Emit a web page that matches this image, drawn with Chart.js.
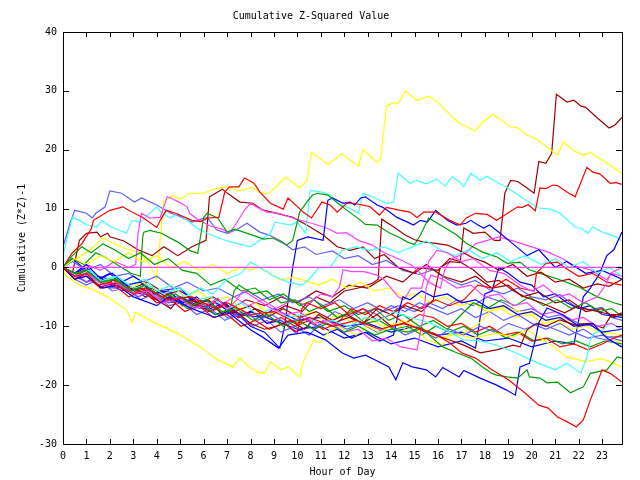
<!DOCTYPE html>
<html>
<head>
<meta charset="utf-8">
<script src="https://cdn.jsdelivr.net/npm/chart.js@4.4.1/dist/chart.umd.min.js"></script>
<style>
  html, body { margin: 0; background: #fff; }
  #caixa { width: 640px; height: 480px; }
</style>
</head>
<body>
<div id="caixa"><canvas id="grafico"></canvas></div>
<script>
// ticks
const hourTicks = [0,1,2,3,4,5,6,7,8,9,10,11,12,13,14,15,16,17,18,19,20,21,22,23];
const valueTicks = [-30,-20,-10,0,10,20,30,40];
const lastHour = 23.85;

// series: [hour, cumulative value]
const zeroLine = [[0,0],[23.85,0]];

const yellowTop = [[0,0],[0.4,1.2],[0.8,2],[1.3,3.5],[1.7,5],[2.1,4.2],[2.6,3.3],[3.3,2.4],[3.7,0.5],[4.0,-2],[4.15,5],[4.3,11.3],[4.7,12.2],[5.0,11.6],[5.4,12.6],[6.0,12.6],[6.5,13.4],[7.0,13.7],[7.5,13],[8.1,13.6],[8.4,12.6],[8.8,12.6],[9.5,15.3],[10.1,13.6],[10.4,14.6],[10.6,19.6],[11.3,17.5],[11.9,19.3],[12.6,17.2],[12.8,20],[13.4,17.9],[13.55,18.5],[13.8,27.4],[14.1,28],[14.3,27.8],[14.6,30],[15.1,28.4],[15.6,29.1],[16.0,28],[16.5,26],[16.9,24.5],[17.6,23.2],[17.9,24.7],[18.35,26],[19.1,23.9],[19.4,23.7],[19.8,22.5],[20.2,21.8],[21.1,19.1],[21.35,21.3],[21.8,19.8],[22.2,19.1],[22.5,19.5],[22.8,18.7],[23.35,17.4],[23.85,15.9]];

const darkRedTop = [[0,0],[0.5,-1.5],[1,-0.5],[1.5,-2.5],[2.2,-2],[3,-3.5],[3.6,-2.5],[4.4,-4.5],[5,-4],[5.8,-6],[6.4,-5],[7.2,-7],[7.8,-5.5],[8.6,-6.5],[9.3,-5],[10,-6],[10.8,-4],[11.5,-5],[12.2,-3],[13,-3.5],[13.8,-1.5],[14.5,-2.5],[15.2,0],[16,-0.5],[16.5,1.5],[16.95,1],[17.1,6.7],[17.5,5.8],[18,6],[18.4,4.6],[18.65,4.6],[18.85,12.6],[19.1,14.8],[19.4,14.6],[19.8,13.5],[20.1,12.6],[20.3,18],[20.6,17.7],[20.85,19.4],[21.05,29.4],[21.2,29],[21.5,28.1],[21.8,28.4],[22.1,27.4],[22.3,27.2],[22.8,25.4],[23.3,23.7],[23.55,24.2],[23.85,25.5]];

const redHigh = [[0,0],[0.4,2.5],[0.8,4],[1.2,6.5],[1.3,8],[1.5,8.5],[2,9.7],[2.55,10.3],[2.9,9.5],[3.4,8.5],[4.0,6.8],[4.15,8],[4.4,9.7],[4.8,9.2],[5.5,8],[5.85,7.8],[6.2,8.4],[6.65,8.5],[6.9,12.8],[7.1,13.7],[7.5,13.7],[7.75,15.2],[8.15,14.3],[8.4,12.8],[8.85,10.9],[9.4,9.9],[9.6,11.8],[10.25,9.4],[10.6,8.4],[11.05,11.1],[11.4,10.6],[11.7,9.4],[12.1,10.9],[12.4,10.9],[12.8,10.6],[13.1,10.3],[13.5,8.9],[13.8,10.2],[14.4,9.7],[14.8,9.4],[15.1,8.5],[15.4,9.4],[15.9,9.4],[16.5,8],[16.95,7.2],[17.2,8.4],[17.6,9.2],[18.1,9],[18.5,8],[19.4,10.3],[19.6,10.2],[19.85,10.7],[20.15,9.6],[20.35,13.5],[20.6,13.4],[20.9,14],[21.1,13.9],[21.5,12.8],[21.85,12],[22.35,17],[22.6,16.2],[22.9,15.9],[23.35,14.3],[23.6,14.4],[23.85,14.1]];

const cyanHigh = [[0,2],[0.4,8.5],[0.7,8],[1,7.2],[1.45,6.9],[1.65,8],[2,7],[2.7,5.8],[2.95,8],[3.3,7.7],[4,10.3],[4.2,9.3],[4.6,8.4],[4.9,9.2],[5.3,8],[5.7,6.7],[6.15,5.8],[7,4.5],[8,3.5],[8.85,5.8],[9.05,7.7],[9.3,7.5],[9.7,7.2],[10,7.7],[10.35,5.8],[10.55,13.1],[11.05,12.8],[11.4,12.3],[11.7,10.9],[12.25,10],[12.6,9.2],[12.8,12.6],[13.2,12],[13.8,10.9],[14.1,11.1],[14.3,16],[14.8,14.3],[15.1,14.8],[15.5,14.2],[15.95,15],[16.3,13.8],[16.6,15.4],[16.9,14.6],[17.1,13.7],[17.4,16],[17.8,14.8],[18.1,15.5],[18.5,14.5],[18.9,13.7],[19.8,11.3],[20.3,10.1],[20.8,9.9],[21.2,9.2],[21.9,6.7],[22.1,6.7],[22.4,5.8],[22.6,6.9],[23,6],[23.6,5.2],[23.85,4.5]];

const slateHigh = [[0,3.5],[0.3,7.5],[0.5,9.7],[1.0,9.2],[1.25,8.4],[1.4,9.2],[1.8,10.3],[2.0,13],[2.5,12.6],[3.05,11.1],[3.35,11.8],[4.0,10.6],[4.6,9.2],[4.85,8.9],[5.5,7.7],[5.7,8],[6.15,8.5],[6.55,6.4],[7.0,5.8],[7.4,6.4],[7.85,7.5],[8.4,6],[8.8,5.5],[9.3,4.5],[9.8,3],[10.3,3.5],[10.8,2.2],[11.5,2.8],[12,1.5],[12.6,2],[13.2,0.5],[13.8,1.2],[14.5,-0.5],[15.2,-1.2],[15.8,-0.4],[16.4,-2],[17,-3],[17.6,-2.2],[18.2,-3.8],[18.8,-4.5],[19.4,-3.5],[20,-5],[20.6,-5.5],[21.2,-4.6],[21.8,-6.5],[22.4,-7.2],[23,-6.8],[23.4,-8.5],[23.85,-9]];

const darkRedJump6 = [[0,0],[0.4,-1],[0.7,4.6],[1.0,5.8],[1.45,6],[1.6,5.2],[1.9,5.8],[2.0,5.2],[2.6,4.5],[3.2,3],[3.8,2],[4.3,3.5],[4.9,2],[5.5,3.5],[6.1,4.6],[6.25,12],[6.8,13.3],[7.05,12.5],[7.55,11.1],[8.1,10.9],[8.5,9.8],[9.0,9.3],[9.8,8.5],[10.4,7.2],[11.1,5.5],[11.7,3.5],[12.25,2.9],[12.8,3.5],[13.3,1.5],[13.7,2.2],[14.3,0],[15,-1],[15.5,0.5],[16.2,-1.5],[17,-2.5],[17.6,-1.5],[18.3,-3.5],[19,-3],[19.6,-5],[20.3,-4.2],[21,-6],[21.6,-5.5],[22.3,-7.5],[23,-7],[23.5,-8.5],[23.85,-8]];

const greenHigh = [[0,0],[0.4,1.5],[0.9,0.5],[1.4,2.5],[1.9,1.5],[2.5,0],[2.9,-1],[3.3,-1.5],[3.4,5.2],[3.45,6],[3.7,6.3],[4.2,5.8],[4.9,4.3],[5.4,2.9],[5.6,2.6],[5.75,2.4],[6.0,8.5],[6.15,9.2],[6.6,8.4],[7.0,6],[7.3,6.5],[7.55,6.2],[8.3,5.2],[8.55,4.8],[8.95,5],[9.55,3.8],[9.8,4.6],[10.1,9.4],[10.4,11.1],[10.65,12.3],[10.85,12.6],[11.3,12.3],[11.95,10.2],[12.7,8],[12.9,7.3],[13.4,7.2],[13.95,5.8],[14.3,5.2],[14.7,4.3],[15.0,3.9],[15.25,5.5],[15.6,8.4],[16.1,7.2],[16.8,5.5],[17.2,4.1],[17.9,2.6],[18.5,1.8],[18.95,0.7],[19.5,0.9],[19.9,-0.4],[20.35,-1],[21.2,-2.1],[21.8,-3],[22.1,-3.5],[22.8,-5],[23.5,-6],[23.85,-6.4]];

const magentaHigh = [[0,0],[0.5,-1],[1,0.5],[1.6,-0.5],[2.2,1],[2.8,0],[3.1,0.5],[3.2,5.8],[3.35,9.2],[3.7,8.4],[4.15,8.5],[4.45,12],[4.6,11.8],[4.95,11.1],[5.3,10.3],[5.4,9.2],[5.8,8],[6.3,7],[6.8,6.5],[7.1,5.8],[7.4,7.5],[7.75,9.8],[8.0,10.9],[8.3,10.2],[8.7,9.4],[9.2,9.2],[9.8,8.4],[10.6,7.5],[11.25,6.7],[11.7,5.8],[12.1,5.9],[12.6,4.6],[13.2,3.8],[13.7,2.5],[14.4,1.3],[14.85,0.4],[15.1,-0.4],[15.6,-2.5],[16.1,-3.5],[16.3,-0.2],[16.6,1.5],[17.2,2.5],[17.6,4],[18.6,5.2],[19.2,4.5],[20.0,3.5],[20.7,2.6],[21.4,1.3],[21.7,0.4],[22.5,-0.4],[23.2,-2.1],[23.4,-1],[23.85,-1.5]];

const blueJump10 = [[0,0],[0.4,1.5],[1,-0.5],[1.5,-2],[2,-1],[2.8,-4],[3.5,-3],[4.5,-6],[5.5,-5.5],[6.5,-8],[7.2,-7],[8,-10],[8.6,-11],[9.25,-13.7],[9.45,-10.1],[9.8,0],[10,4.6],[10.45,5.2],[11.1,4.6],[11.3,11.4],[11.5,11.8],[11.95,10.9],[12.25,11.1],[12.45,10.6],[12.7,11.8],[12.9,12],[13.4,10.6],[13.65,10.2],[13.8,9.8],[14.25,8.5],[14.7,7.7],[14.95,7.2],[15.25,8],[15.55,7.7],[15.9,9.7],[16.4,8],[16.8,7.2],[17.2,7.5],[17.4,8],[17.7,7.2],[17.95,6.7],[18.2,7.2],[18.65,5.8],[19.2,4],[19.8,2],[20.3,3],[21,0],[21.5,1],[22.3,-1],[23,-0.5],[23.85,-2]];

const darkRedJump13 = [[0,0],[0.5,-1],[1,-2.5],[1.5,-1.5],[2.2,-3.5],[2.8,-3],[3.5,-5],[4.2,-4],[5,-6],[5.6,-5.5],[6.2,-7.5],[6.8,-6.5],[7.5,-8.5],[8.2,-7],[8.8,-8],[9.5,-6.5],[10.2,-7.5],[10.8,-5],[11.4,-6],[12,-4],[12.6,-3.5],[13.2,-2.7],[13.45,-2],[13.6,8.2],[14.1,6.9],[14.6,5.5],[15.0,4.7],[15.4,4.3],[15.9,4.1],[16.4,3.8],[16.9,2.9],[17.5,1.6],[18,0.9],[18.6,-0.5],[19.2,0.5],[19.8,-1.5],[20.4,-0.8],[21,-2.5],[21.6,-2],[22.2,-3.5],[22.8,-2.8],[23.3,-3.2],[23.85,-2]];

const yellowLow = [[0,0],[0.1,-1.3],[0.7,-3],[1.3,-3.8],[1.9,-5],[2.7,-7.2],[2.95,-9.3],[3.1,-7.6],[3.85,-9.3],[4.9,-11.2],[5.85,-13.5],[6.6,-15.7],[7.25,-16.9],[7.55,-15.4],[7.85,-16.6],[8.3,-17.8],[8.6,-18],[8.85,-16],[9.3,-17.4],[9.6,-16.9],[10.1,-18.6],[10.25,-16],[10.5,-14],[10.7,-12.3],[10.95,-12.8],[11.4,-10.6],[11.8,-10.1],[12.5,-11.5],[13,-10],[13.5,-11],[14.5,-9],[15,-10],[15.5,-12.3],[16.2,-13.2],[16.5,-11.2],[17.5,-12],[18.5,-11.2],[19.2,-11.8],[19.8,-10.6],[20.7,-12.8],[21.5,-15.2],[22.3,-16],[23,-15.5],[23.85,-16.9]];

const redLow = [[0,0],[0.5,-1.5],[1,-1],[1.5,-3],[2,-2.5],[3,-4.5],[3.5,-3.5],[4.5,-5.5],[5.5,-5],[6.5,-7],[7,-6],[8,-8],[9,-7.5],[10,-9.5],[10.5,-8.5],[11.5,-10],[12.5,-9],[13.5,-10.5],[14.5,-9.5],[15.8,-11.2],[16.5,-12.8],[17,-14.5],[17.6,-15.4],[18.3,-17.4],[19,-19.1],[19.7,-21.3],[20.3,-23.4],[20.7,-23.9],[21.1,-25.4],[21.5,-26.2],[21.9,-27.1],[22.2,-25.9],[22.5,-22.5],[22.8,-19.5],[23,-17.4],[23.35,-18],[23.85,-19.5]];

const blueLow = [[0,0],[0.5,-2],[1,-1.5],[1.7,-3.5],[2.3,-3],[3,-5],[4,-6.5],[4.5,-5],[5.5,-7],[6.5,-8.5],[7,-7.5],[8,-10.6],[8.5,-11.8],[9.2,-13.7],[9.6,-11.5],[10.4,-11],[11.2,-12.3],[11.9,-14.5],[12.4,-15.4],[12.9,-14.9],[13.3,-15.7],[13.9,-16.9],[14.2,-19.1],[14.5,-16.2],[14.9,-16.9],[15.5,-17.4],[15.9,-18.6],[16.2,-17],[16.9,-18.6],[17.1,-17.5],[17.8,-18.8],[18.5,-20],[18.9,-20.8],[19.3,-21.7],[19.5,-16.9],[19.9,-16.3],[20.15,-12.3],[20.3,-9.4],[20.65,-6.9],[21.3,-8],[22,-10],[22.6,-9.5],[23.2,-12],[23.85,-13.5]];

const blueJump18 = [[0,0],[0.5,-1],[1,0.5],[1.5,-1.5],[2.5,-2.5],[3,-1.5],[4,-4],[5,-3.5],[5.5,-5.5],[6.5,-6],[7.5,-8.5],[8,-7.5],[9,-9],[10,-10.5],[11,-10],[12,-12],[13,-11],[14,-13],[15,-12],[16,-13.5],[17,-12.5],[17.6,-13.7],[17.8,-8.5],[18,-4.5],[18.3,-4],[18.6,0],[19,-1],[19.5,-2.5],[20,-3],[20.5,-5],[21,-4.5],[21.5,-6],[22,-7],[22.5,-6.5],[23,-8],[23.85,-8.5]];

const blueJump22 = [[0,0],[0.4,-1],[1,-2.5],[1.5,-1.5],[2.5,-4],[3,-3.5],[4,-5.5],[5,-5],[6,-7],[6.5,-6],[7.5,-8],[8.5,-8.5],[9,-7],[10,-9],[11,-8.5],[12,-10],[13,-9.5],[14,-11],[15,-10],[16,-11.5],[17,-11],[18,-12.5],[19,-12],[20,-13.5],[21,-12.5],[21.8,-13],[22.05,-8],[22.2,-5],[22.5,-3.5],[22.9,-1],[23.2,2],[23.5,3],[23.85,6]];

const greenLow = [[0,0],[0.5,-1],[1,-0.5],[1.6,-2.5],[2.2,-2],[2.9,-4],[3.5,-3],[4.2,-5],[4.8,-4.5],[5.5,-6.5],[6.1,-5.5],[6.8,-7.5],[7.4,-7],[8.1,-9],[8.7,-8],[9.4,-10],[10,-9],[10.7,-10.5],[11.3,-9.5],[12,-11],[12.6,-10],[13.3,-11.5],[14,-10.5],[14.7,-11],[15.3,-10.2],[15.7,-11.8],[16.2,-13.5],[16.8,-14.5],[17.4,-15.4],[17.9,-16.9],[18.3,-18],[18.5,-18.3],[18.95,-18.6],[19.4,-18.8],[19.8,-17.4],[19.9,-18.6],[20.35,-18.8],[20.65,-19.6],[21.1,-19.5],[21.35,-20.3],[21.65,-21.3],[22.2,-20.3],[22.5,-18],[23.2,-17.4],[23.65,-15.2],[23.85,-15.4]];

const cyanLow = [[0,0],[0.6,-1.5],[1.1,-0.5],[1.7,-2.5],[2.3,-1.5],[3,-3.5],[3.6,-3],[4.3,-4.5],[5,-3.5],[5.7,-5.5],[6.3,-5],[7,-7],[7.6,-6],[8.3,-8],[8.9,-7],[9.6,-8.5],[10.2,-8],[10.9,-9.5],[11.5,-9],[12.2,-10],[12.9,-8.5],[13.5,-9],[14.1,-7.5],[14.8,-8.5],[15.3,-9],[15.7,-9.5],[16.4,-10.8],[17.1,-12.3],[17.8,-12.5],[18.5,-13.2],[19.3,-14.5],[20.3,-16.3],[21,-17.4],[21.5,-16.3],[22.1,-18],[22.35,-15.2],[22.5,-12.3],[22.65,-11.2],[23.05,-10.6],[23.35,-9.4],[23.85,-10.6]];

const darkRedJump16 = [[0,0],[0.6,-1.5],[1.2,-1],[1.8,-3],[2.5,-2.5],[3.2,-4.5],[3.8,-3.5],[4.6,-5.5],[5.3,-5],[6,-7],[6.6,-5.5],[7.3,-7.5],[8,-6.5],[8.7,-8.5],[9.4,-7],[10.1,-8.5],[10.8,-7.5],[11.5,-9],[12.1,-8],[12.8,-9.5],[13.4,-7],[14,-8],[14.6,-6.5],[15.3,-7.5],[15.8,-5.5],[16,-1.5],[16.1,0],[16.5,1],[17,0.8],[17.5,-0.4],[18.1,-2.5],[18.6,-2.2],[19.2,-3.9],[19.7,-5],[20.4,-6],[21.4,-7.7],[21.9,-6.7],[22.5,-7.2],[23.35,-8],[23.85,-8]];

const darkRedLow = [[0,0],[0.5,-2],[1,-1],[1.6,-3.5],[2.2,-2],[2.8,-4],[3.4,-3.5],[4,-5.5],[4.6,-7],[5,-5],[5.6,-6.5],[6.2,-5.5],[6.8,-8],[7.4,-7.5],[8,-9.5],[8.6,-10.5],[9.1,-10],[9.7,-9],[10.3,-10.5],[10.9,-8],[11.5,-9.5],[12.2,-8.5],[12.8,-9.5],[13.4,-8],[14,-10],[14.6,-9.5],[15.2,-10.5],[15.7,-11.2],[16.4,-12.2],[17.1,-13.2],[17.8,-14.5],[18.5,-14],[19.2,-13.2],[19.5,-13.5],[19.8,-10.6],[20.2,-9.5],[20.6,-10],[21.2,-8.9],[21.8,-9.7],[22.5,-9.5],[23.05,-10.3],[23.35,-8.4],[23.85,-7.7]];

const slateLow = [[0,0],[0.5,-1.5],[1,-2.5],[1.4,-1.5],[2,-3.5],[2.6,-3],[3.2,-5],[3.8,-4],[4.5,-6],[5.1,-5],[5.8,-7],[6.4,-6.5],[7,-8.5],[7.7,-7.5],[8.3,-9],[8.9,-8],[9.5,-9.5],[10.2,-8.5],[10.8,-10],[11.4,-9],[12.1,-10.5],[12.7,-9.5],[13.4,-11],[14,-10],[14.6,-11.5],[15.2,-10.5],[15.9,-12],[16.5,-10.5],[17.1,-11.5],[17.8,-10],[18.4,-11],[19,-9.5],[19.7,-10.5],[20.3,-9.5],[21,-10.5],[21.6,-11.5],[22.2,-10.5],[22.8,-12],[23.4,-12.5],[23.85,-13.5]];

const slateMid = [[0,0],[0.4,1],[1,-0.5],[1.6,0.5],[2.2,-1.5],[2.8,-1],[3.4,-2.5],[4,-1.5],[4.7,-3.5],[5.3,-2.5],[6,-4],[6.6,-3.5],[7.3,-5],[7.9,-4],[8.5,-5.5],[9.2,-4.5],[9.8,-6],[10.5,-5],[11.1,-6.5],[11.8,-5.5],[12.4,-7],[13,-6],[13.7,-7.5],[14.3,-6.5],[15,-7.5],[15.6,-6],[16.2,-7],[16.8,-5.5],[17.5,-6.5],[18.1,-5],[18.8,-6],[19.4,-7.5],[20,-7],[20.7,-8.5],[21.3,-8],[22,-9.5],[22.6,-10],[23.2,-11.8],[23.85,-11.8]];

const slateDip = [[0,0],[0.5,-2],[1,-3],[1.5,-2],[2.1,-4],[2.7,-3.5],[3.3,-5.5],[3.9,-4.5],[4.5,-6.5],[5.1,-6],[5.7,-8],[6.3,-7],[6.9,-9],[7.5,-8],[8.1,-10],[8.7,-9],[9.3,-11],[9.9,-10],[10.5,-11.5],[11.1,-9],[11.6,-7.5],[12.2,-8.5],[12.8,-7],[13.4,-8],[14,-6.5],[14.6,-7.5],[15.2,-6],[15.8,-7],[16.4,-8],[17,-7],[17.6,-8.5],[18.2,-7.5],[18.8,-9],[19.4,-8],[20,-9.5],[20.6,-10.5],[21.2,-9.5],[21.8,-11],[22.4,-12],[23,-11.5],[23.85,-12.5]];

const magentaMid = [[0,0],[0.5,-1],[1,-2.5],[1.5,-2],[2.1,-3.5],[2.6,-3],[3.2,-5],[3.8,-4],[4.4,-6],[5,-5.5],[5.6,-7],[6.1,-5.5],[6.7,-6.5],[7.3,-5],[7.9,-6.5],[8.5,-5.5],[9.1,-7],[9.8,-5.5],[10.4,-6.5],[11,-4.5],[11.5,-5],[11.8,-3.3],[11.95,-0.4],[12.3,-0.7],[12.85,-0.7],[13.4,-1.3],[13.7,-2.1],[14,-3.5],[14.3,-5],[14.55,-5.5],[14.85,-3.5],[15.3,-3.5],[15.6,1],[15.95,2.9],[16.4,2.5],[17,1],[17.5,1.5],[18.2,-0.5],[18.8,-1],[19.5,-3],[20,-4],[20.5,-3],[21.1,-5],[21.6,-4.5],[22.2,-6],[22.8,-5],[23.2,-2.7],[23.35,-1],[23.6,-0.5],[23.85,0]];

const magentaLow = [[0,0],[0.5,-1.5],[1.1,-1],[1.7,-3],[2.3,-2.5],[3,-4.5],[3.6,-4],[4.3,-6],[4.9,-5],[5.6,-7],[6.3,-6],[6.6,-5.2],[7,-7.2],[7.4,-5.5],[7.7,-3.9],[8.3,-5.5],[8.9,-7],[9.5,-8],[10.1,-7.5],[10.7,-9.5],[11.3,-9],[12,-11],[12.6,-10.5],[13.2,-12.5],[13.8,-12],[14.4,-13.5],[15.1,-14],[15.4,-8],[15.5,-3.3],[15.7,-1.3],[16.2,-2],[16.8,-3.5],[17.4,-3],[18,-5],[18.6,-4.5],[19.2,-6.5],[19.8,-6],[20.4,-8],[21,-7.5],[21.6,-9],[22.2,-8.5],[22.8,-10],[23.4,-9.5],[23.85,-10.5]];

const greenMid = [[0,0],[0.4,2],[0.8,3.5],[1.2,2.5],[1.7,4],[2.2,3],[2.8,1.5],[3.3,2.5],[3.9,0.5],[4.5,1.5],[5.1,-0.5],[5.7,-1],[6.3,-3],[6.9,-2],[7.6,-4],[8.2,-3.5],[8.8,-5.5],[9.4,-4.5],[10.1,-6.5],[10.7,-5.5],[11.3,-7.5],[12,-6.5],[12.6,-8],[13.3,-7],[13.9,-9],[14.5,-8],[15.2,-10],[15.8,-9],[16.4,-10.5],[17,-8],[17.5,-6],[18.1,-7],[18.7,-5.5],[19.3,-6.5],[19.9,-5],[20.5,-6.5],[21.1,-5.5],[21.7,-7],[22.3,-6],[22.9,-7.5],[23.4,-7],[23.85,-8.3]];

const greenJump7 = [[0,0],[0.5,-1],[1.1,-0.5],[1.7,-2.5],[2.3,-2],[2.9,-4],[3.5,-3.5],[4.1,-5.5],[4.7,-5],[5.3,-7],[5.9,-6],[6.5,-8],[7.1,-7.5],[7.3,-4],[7.5,-3],[8.1,-4.5],[8.7,-4],[9.3,-6],[9.9,-5.5],[10.5,-7.5],[11.1,-6.5],[11.7,-8.5],[12.3,-7.5],[12.9,-9.5],[13.5,-9],[14.1,-10.5],[14.7,-10],[15.3,-11.5],[15.9,-10],[16.5,-11],[17.1,-10],[17.7,-11.5],[18.3,-10.5],[18.9,-12],[19.5,-11],[20.1,-12.5],[20.7,-12],[21.3,-13],[21.9,-12.5],[22.5,-13.5],[23.1,-12.5],[23.85,-13]];

const redMid = [[0,0],[0.4,-1.5],[0.9,-0.5],[1.5,-2.5],[2.1,-2],[2.7,-4],[3.3,-3.5],[3.9,-5.5],[4.5,-4.5],[5.1,-6.5],[5.7,-5.5],[6.3,-7.5],[6.9,-6.5],[7.5,-8.5],[8.1,-7.5],[8.7,-9.5],[9.3,-8.5],[9.9,-10],[10.5,-9],[11.1,-10.5],[11.7,-9.5],[12.3,-7],[12.9,-8],[13.5,-6.5],[14.1,-7.5],[14.7,-6],[15.3,-7],[15.9,-5.5],[16.5,-6.5],[17.1,-5.5],[17.7,-3],[18.3,-3.5],[18.9,-2],[19.5,-3.5],[20.1,-4],[20.2,-1],[20.6,0.7],[21.1,0.9],[21.4,0],[22,-1.5],[22.6,-1],[23.2,-2.5],[23.85,-3]];

const redJump10 = [[0,0],[0.5,-2],[1,-1.5],[1.6,-3.5],[2.2,-3],[2.8,-5],[3.4,-4],[4,-6],[4.6,-5.5],[5.2,-7.5],[5.8,-6.5],[6.4,-8.5],[7,-8],[7.6,-10],[8.2,-9],[8.8,-10.5],[9.4,-9.5],[10,-11],[10.2,-7],[10.4,-6],[11,-7],[11.6,-6],[12.2,-8],[12.8,-7],[13.4,-9],[14,-8],[14.6,-9.5],[15.2,-8],[15.8,-8.5],[16.4,-10],[17,-9.5],[17.6,-11],[18.2,-10],[18.8,-11.5],[19.4,-11],[20,-12.5],[20.6,-12],[21.2,-13.5],[21.8,-13],[22.4,-14],[23,-13],[23.5,-12],[23.85,-11.5]];

const yellowMid = [[0,0],[0.4,-1.5],[1,-1],[1.6,-3],[2.2,-2],[2.8,-3.5],[3.4,-2.5],[4,-4],[4.6,-3],[5.2,-5],[5.8,-4],[6.4,-6],[7,-5],[7.6,-7],[8.2,-6],[8.8,-8],[9.4,-7],[10,-8.5],[10.6,-7.5],[11.2,-9],[11.8,-8],[12.4,-9.5],[13,-8.5],[13.6,-10],[14.2,-9.5],[14.8,-11],[15.4,-10.5],[16,-12],[16.6,-11.5],[17.1,-11.2],[17.5,-10.2],[17.9,-9],[18.3,-7],[18.9,-6.8],[19.5,-7.5],[20.1,-8],[20.7,-9],[21.3,-8.5],[21.9,-10],[22.5,-9.5],[23.1,-11],[23.85,-11.5]];

const yellowZero = [[0,0],[0.5,1.5],[1,0.5],[1.6,2],[2.2,1],[2.8,2.5],[3.4,1],[4,2],[4.6,0],[5.2,1],[5.8,-0.5],[6.4,0.5],[7,-1],[7.6,0],[8,-0.4],[8.4,0],[8.8,-1],[9.3,-2.2],[9.8,-1.7],[10.3,-2.2],[10.9,-3],[11.5,-2],[12.1,-3.5],[12.7,-2.5],[13.3,-4],[13.9,-3.5],[14.5,-5],[15.1,-4.5],[15.7,-6],[16.3,-5],[16.9,-6.5],[17.5,-6],[18.1,-7.5],[18.7,-7],[19.3,-8.5],[19.9,-8],[20.5,-9.5],[21.1,-9],[21.7,-10.5],[22.3,-10],[22.9,-11],[23.4,-12],[23.85,-13]];

const blueJump14 = [[0,0],[0.5,-1],[1,0],[1.5,-2],[2.1,-1],[2.7,-3],[3.3,-2.5],[3.9,-4.5],[4.5,-4],[5.1,-6],[5.7,-5],[6.3,-7],[6.9,-6],[7.5,-8],[8.1,-7.5],[8.7,-9.5],[9.3,-9],[9.9,-11],[10.5,-10],[11.1,-11.5],[11.7,-10.5],[12.3,-12],[12.9,-11],[13.5,-12.5],[14.1,-11.5],[14.3,-8],[14.5,-5],[14.8,-5.5],[15.3,-4],[15.8,-5],[16.4,-4.5],[17,-6],[17.6,-5.5],[18.2,-7],[18.8,-6.5],[19.4,-8],[20,-7.5],[20.6,-9],[21.2,-8.5],[21.8,-10],[22.4,-9.5],[23,-11],[23.85,-10.5]];

const cyanMid = [[0,0],[0.5,-1.5],[1,-1],[1.5,-2.5],[2.2,-1.5],[2.8,-3],[3.5,-2],[4,-4],[4.6,-3],[5.2,-5],[5.9,-3.5],[6.4,-4.5],[7,-2],[7.6,-1],[8,0.9],[8.4,0],[9,-1.5],[9.6,-2.5],[10.2,-3],[10.5,-2],[10.9,-0.1],[11.4,0],[11.9,2.9],[12.5,3.5],[13.1,2.9],[13.7,3.5],[14.3,2.5],[14.9,3.5],[15.5,4.5],[16.1,3],[16.7,2],[17.3,3],[17.9,1.5],[18.5,2.5],[19.1,1],[19.7,2],[20.4,0.5],[21,1.5],[21.6,0],[22.2,1],[22.8,-1],[23.3,0],[23.85,-1.5]];

// gnuplot colour cycle
const RED = '#ff0000', GREEN = '#00a000', BLUE = '#0000ff', MAGENTA = '#ff40ff',
      CYAN = '#40ffff', DARKRED = '#a00000', YELLOW = '#ffff00', SLATE = '#6060ff';

const series = [
  [zeroLine, MAGENTA],
  [redLow, RED], [greenLow, GREEN], [blueLow, BLUE], [magentaLow, MAGENTA],
  [cyanLow, CYAN], [darkRedLow, DARKRED], [yellowLow, YELLOW], [slateLow, SLATE],
  [redJump10, RED], [greenJump7, GREEN], [blueJump14, BLUE], [magentaMid, MAGENTA],
  [cyanMid, CYAN], [darkRedJump16, DARKRED], [yellowMid, YELLOW], [slateDip, SLATE],
  [redMid, RED], [greenMid, GREEN], [blueJump18, BLUE], [yellowZero, YELLOW],
  [slateMid, SLATE], [blueJump22, BLUE], [darkRedJump13, DARKRED],
  [redHigh, RED], [greenHigh, GREEN], [blueJump10, BLUE], [magentaHigh, MAGENTA],
  [cyanHigh, CYAN], [darkRedJump6, DARKRED], [yellowTop, YELLOW], [slateHigh, SLATE],
  [darkRedTop, DARKRED]
];

const fonte = { family: '"DejaVu Sans Mono", monospace', size: 10, weight: 'normal' };

// border box with inward ticks on all four sides
const moldura = {
  id: 'moldura',
  afterDatasetsDraw(chart) {
    const { ctx, chartArea: a, scales: { x, y } } = chart;
    ctx.save();
    ctx.strokeStyle = '#000';
    ctx.lineWidth = 1;
    ctx.beginPath();
    hourTicks.forEach(h => {
      const px = Math.round(x.getPixelForValue(h)) + 0.5;
      ctx.moveTo(px, a.bottom); ctx.lineTo(px, a.bottom - 5);
      ctx.moveTo(px, a.top); ctx.lineTo(px, a.top + 5);
    });
    valueTicks.forEach(v => {
      const py = Math.round(y.getPixelForValue(v)) + 0.5;
      ctx.moveTo(a.left, py); ctx.lineTo(a.left + 6, py);
      ctx.moveTo(a.right, py); ctx.lineTo(a.right - 6, py);
    });
    ctx.stroke();
    ctx.strokeRect(Math.round(a.left) + 0.5, Math.round(a.top) + 0.5,
                   Math.round(a.right - a.left), Math.round(a.bottom - a.top));
    ctx.restore();
  }
};

new Chart(document.getElementById('grafico'), {
  type: 'line',
  data: {
    datasets: series.map(([pts, cor]) => ({
      data: pts.map(p => ({ x: p[0], y: p[1] })),
      borderColor: cor,
      borderWidth: 1.2,
      pointRadius: 0,
      tension: 0,
      fill: false
    }))
  },
  options: {
    responsive: true,
    maintainAspectRatio: false,
    animation: false,
    events: [],
    layout: { padding: { top: 0, right: 18, bottom: 0, left: 0 } },
    plugins: {
      legend: { display: false },
      tooltip: { enabled: false },
      title: {
        display: true,
        text: 'Cumulative Z-Squared Value',
        color: '#000',
        font: fonte,
        padding: { top: 10, bottom: 10 }
      }
    },
    scales: {
      x: {
        type: 'linear',
        min: 0,
        max: lastHour,
        grid: { display: false, drawTicks: false },
        border: { display: false },
        afterBuildTicks: s => { s.ticks = hourTicks.map(v => ({ value: v })); },
        afterFit: s => { s.height = 36; },
        ticks: { color: '#000', font: fonte, padding: 6, maxRotation: 0, autoSkip: false },
        title: { display: true, text: 'Hour of Day', color: '#000', font: fonte, padding: { top: 0, bottom: 2 } }
      },
      y: {
        min: -30,
        max: 40,
        grid: { display: false, drawTicks: false },
        border: { display: false },
        afterBuildTicks: s => { s.ticks = valueTicks.map(v => ({ value: v })); },
        afterFit: s => { s.width = 63; },
        ticks: { color: '#000', font: fonte, padding: 6 },
        title: { display: true, text: 'Cumulative (Z*Z)-1', color: '#000', font: fonte, padding: { top: 16, bottom: 0 } }
      }
    }
  },
  plugins: [moldura]
});
</script>
</body>
</html>
